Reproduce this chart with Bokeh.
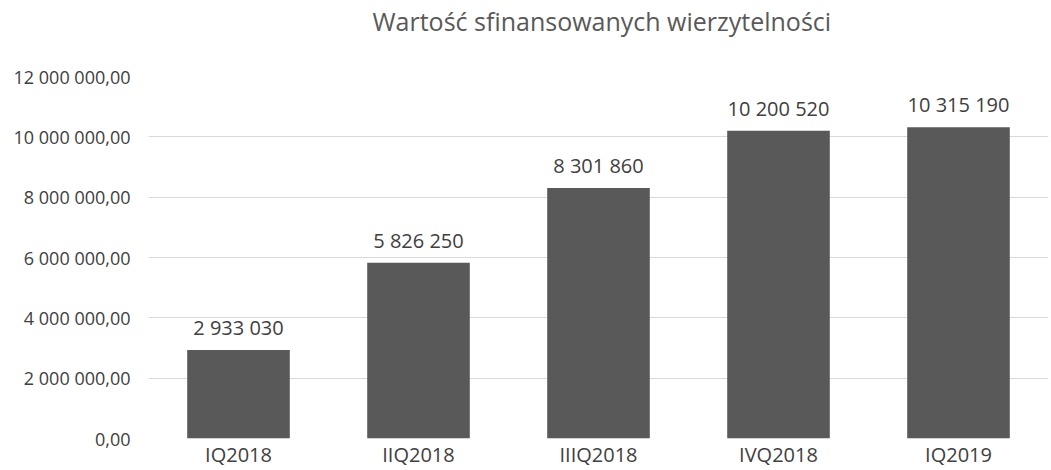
from bokeh.plotting import figure
from bokeh.models import ColumnDataSource, FactorRange, Range1d, FixedTicker, CustomJSTickFormatter, Title
from bokeh.core.properties import value
from bokeh.embed import file_html
from bokeh.resources import INLINE

categories = ["IQ2018", "IIQ2018", "IIIQ2018", "IVQ2018", "IQ2019"]
values = [2933030, 5826250, 8301860, 10200520, 10315190]
value_labels = ["2 933 030", "5 826 250", "8 301 860", "10 200 520", "10 315 190"]
y_ticks = [0, 2000000, 4000000, 6000000, 8000000, 10000000, 12000000]
title_text = "Wartość sfinansowanych wierzytelności"

FONT = "Open Sans"
src = ColumnDataSource(dict(cat=categories, val=values, lab=value_labels))

p = figure(width=1051, height=470, output_backend="svg", toolbar_location=None,
           x_range=FactorRange(factors=categories, range_padding=0),
           y_range=Range1d(0, 12000000),
           min_border_left=148, min_border_right=3, min_border_top=75, min_border_bottom=0)

# trailing blank line acts as spacer between title and plot area
t = Title(text=title_text + "\n ", align="left", vertical_align="top", text_font=FONT,
          text_font_size="25px", text_font_style="normal", text_color="#595959",
          standoff=6, offset=224)
p.title = t

p.vbar(x="cat", top="val", width=0.57, source=src, fill_color="#595959", line_color=None)
p.text(x="cat", y="val", text="lab", source=src, text_align="center", text_baseline="bottom",
       y_offset=-9, text_font=value(FONT), text_font_size="20px", text_color="#404040")

p.outline_line_color = None
p.xgrid.grid_line_color = None
p.ygrid.grid_line_color = "#d9d9d9"
p.ygrid.grid_line_width = 1

p.yaxis.ticker = FixedTicker(ticks=y_ticks)
p.yaxis.formatter = CustomJSTickFormatter(code="""
    var s = Math.round(tick).toString();
    s = s.replace(/\\B(?=(\\d{3})+(?!\\d))/g, ' ');
    return s + ',00';
""")
for ax in (p.xaxis, p.yaxis):
    ax.axis_line_color = None
    ax.major_tick_line_color = None
    ax.minor_tick_line_color = None
    ax.major_tick_out = 0
    ax.major_tick_in = 0
    ax.minor_tick_out = 0
    ax.major_label_text_font = FONT
    ax.major_label_text_color = "#404040"
p.yaxis.major_label_text_font_size = "18px"
p.yaxis.major_label_standoff = 18
p.xaxis.major_label_text_font_size = "20px"
p.xaxis.major_label_standoff = 2

open("out.html", "w").write(file_html(p, INLINE))
